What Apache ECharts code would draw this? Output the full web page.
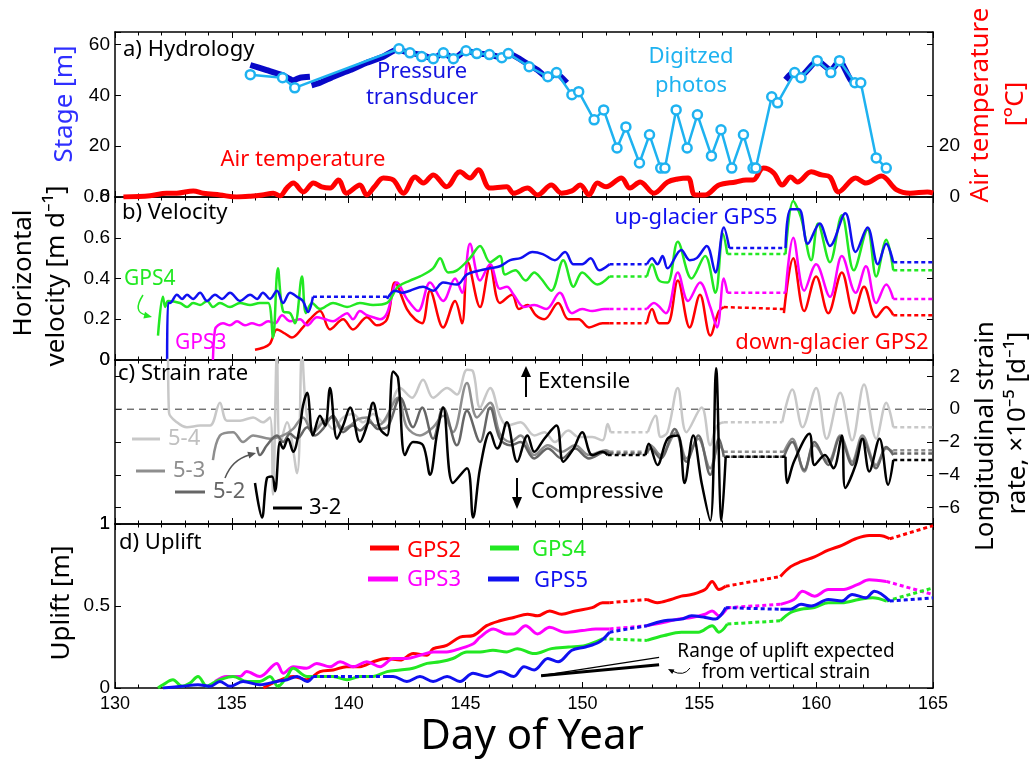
<!DOCTYPE html>
<html>
<head>
<meta charset="utf-8">
<script src="https://cdn.jsdelivr.net/npm/echarts@6/dist/echarts.min.js"></script>
<style>
  html, body { margin: 0; padding: 0; background: #fff; }
  #chart { width: 1036px; height: 763px; }
</style>
</head>
<body>
<div id="chart"></div>
<script>
// ---- a) hydrology ----
var airTemp = [[130.36,0],[131.5,0.5],[132.21,1.5],[132.64,1.5],[133.35,2.4],[133.78,1.5],[134.49,0.8],[135.2,0],[135.8,0.3],[136.3,0.8],[136.77,1.5],[137.06,0.5],[137.35,3.5],[137.63,5.5],[138.06,2],[138.49,5.5],[138.84,4],[139.2,3.5],[139.56,6.7],[139.91,1.5],[140.48,4.7],[140.77,0.8],[141.1,4],[141.48,7.5],[141.91,6.7],[142.34,1.5],[142.84,7.9],[143.19,5.5],[143.62,8.7],[144.19,4],[144.76,9.9],[145.19,7.5],[145.55,10.7],[146.05,3.5],[146.76,4],[147.06,1.5],[147.65,3.5],[148.08,0.8],[148.67,4.7],[149.11,1.5],[149.55,2.4],[149.91,4.7],[150.28,0.8],[150.64,5.5],[151.01,4],[151.67,7.5],[152.03,3.5],[152.47,5.9],[153.06,1.5],[153.64,5.9],[154.08,7.1],[154.52,7.5],[154.81,0.8],[155.25,0.8],[155.84,4.7],[156.56,5.9],[157.0,6.7],[157.3,6.7],[157.74,11.4],[158.18,9.5],[158.55,4.7],[158.91,7.9],[159.2,5.9],[159.79,9.9],[160.23,8.7],[160.59,7.9],[160.96,2],[161.69,7.5],[162.13,5.5],[162.79,8.3],[163.45,2.8],[164.03,1.5],[164.76,2],[165,1.5]];
var stagePT = [[135.79,52],[136.49,50],[137.17,48],[137.63,46],[137.92,47],[138.34,47.4],null,
  [138.41,44],[138.77,45],[139.34,47.4],[140.06,50],[140.77,52.9],[141.48,55.3],[142.05,58],[142.62,56.8],[143.12,56],[143.62,54.5],[144.05,56.8],[144.48,54.5],[145.02,57.6],[145.48,56.5],[146.02,56.1],[146.55,55],[146.83,56.5],[147.72,52],[148.08,50],[148.52,47],[148.89,48.6],[149.33,45],null,
  [158.69,46.2],[159.05,49.3],[159.35,47.8],[160.05,53.7],[160.63,50],[161.0,53.7],[161.54,45.4],[162.05,45]];
var stagePhoto = [[135.79,48.2],[137.17,47.0],[137.69,43.0],[142.15,58.4],[142.62,56.8],[143.12,55.3],[143.62,54.5],[144.05,56.8],[144.48,54.5],[145.02,57.6],[145.48,56.5],[146.02,56.1],[146.55,54.9],[146.83,56.5],[147.72,51.3],[148.52,47.4],[148.89,49.0],[149.55,40.3],[149.84,41.5],[150.5,30.4],[150.91,34.3],[151.48,19.3],[151.86,27.6],[152.44,13.4],[152.87,24.5],[153.35,11.4],[153.53,11.4],[154.01,34.3],[154.48,19.3],[154.92,32.4],[155.52,16.2],[155.93,26.5],[156.39,11.4],[156.89,24.5],[157.3,11.4],[157.42,11.4],[158.1,39.5],[158.35,37.1],[159.08,49.0],[159.35,47.0],[160.05,53.7],[160.63,49.0],[161.0,53.7],[161.66,45.0],[161.91,45.0],[162.57,15.4],[163.0,11.4]];

// ---- b) velocity [m/d] ----
var vel5 = [[132.23,0],[132.27,0.28],[132.35,0.28],[132.65,0.32],[132.87,0.30],[133.08,0.32],[133.34,0.30],[133.64,0.33],[133.94,0.29],[134.28,0.32],[134.58,0.30],[134.92,0.33],[135.35,0.29],[135.78,0.32],[136.08,0.30],[136.33,0.33],[136.63,0.30],[136.93,0.34],[137.19,0.28],[137.49,0.33],[137.79,0.31],[138.04,0.29],[138.26,0.235],[138.47,0.31],null,
  [141.64,0.30],[141.98,0.34],[142.3,0.33],[142.62,0.34],[143.18,0.36],[143.61,0.34],[144.04,0.38],[144.63,0.37],[145.06,0.42],[145.62,0.44],[146.05,0.45],[146.47,0.46],[146.91,0.49],[147.35,0.5],[147.86,0.53],[148.3,0.52],[148.82,0.49],[149.26,0.53],[149.62,0.47],[149.99,0.47],[150.35,0.5],[150.72,0.44],[151.16,0.47],null,
  [152.76,0.47],[152.98,0.5],[153.21,0.47],[153.43,0.51],[153.64,0.45],[154.23,0.54],[154.59,0.49],[154.89,0.5],[155.32,0.56],[155.69,0.43],[156.05,0.65],[156.28,0.55],null,
  [158.69,0.55],[158.91,0.74],[159.27,0.74],[159.64,0.57],[160.15,0.67],[160.59,0.56],[161.25,0.72],[161.69,0.53],[162.2,0.65],[162.64,0.47],[163.0,0.57],[163.3,0.48]];
var vel5Dot = [[138.47,0.31],[141.68,0.31],null,[151.16,0.47],[152.76,0.47],null,[156.28,0.55],[158.69,0.55],null,[163.3,0.48],[165,0.48]];
var vel4 = [[131.84,0.12],[132.05,0.31],[132.15,0.26],[132.27,0.29],[132.78,0.28],[133.08,0.26],[133.34,0.28],[133.64,0.27],[133.94,0.29],[134.19,0.26],[134.49,0.28],[134.92,0.26],[135.35,0.28],[135.78,0.27],[136.2,0.28],[136.55,0.28],[136.76,0.11],[136.97,0.45],[137.19,0.24],[137.49,0.23],[137.7,0.18],[138.0,0.41],[138.17,0.23],[138.43,0.28],[138.77,0.25],[139.33,0.28],[139.93,0.26],[140.48,0.28],[141.04,0.27],[141.64,0.28],[142.11,0.36],[142.62,0.39],[143.05,0.41],[143.61,0.45],[143.91,0.5],[144.25,0.43],[144.63,0.44],[145.19,0.5],[145.62,0.56],[146.05,0.48],[146.47,0.51],[146.69,0.42],[147.13,0.44],[147.57,0.39],[147.94,0.43],[148.23,0.40],[148.67,0.34],[149.18,0.49],[149.62,0.36],[149.99,0.43],[150.64,0.37],[151.16,0.41],null,
  [152.76,0.41],[152.98,0.47],[153.28,0.39],[153.64,0.38],[154.08,0.58],[154.67,0.40],[155.25,0.51],[155.69,0.33],[156.01,0.62],[156.2,0.52],null,
  [158.69,0.52],[159.02,0.78],[159.35,0.70],[159.79,0.49],[160.08,0.67],[160.59,0.48],[161.1,0.71],[161.61,0.44],[162.2,0.64],[162.57,0.41],[163.0,0.59],[163.3,0.44]];
var vel4Dot = [[151.16,0.41],[152.76,0.41],null,[156.2,0.52],[158.69,0.52],null,[163.3,0.44],[165,0.44]];
var vel3 = [[134.19,0],[134.28,0.15],[134.41,0.17],[134.62,0.18],[134.92,0.17],[135.22,0.19],[135.56,0.17],[135.86,0.18],[136.2,0.17],[136.55,0.19],[136.85,0.18],[137.15,0.22],[137.49,0.19],[137.92,0.2],[138.22,0.17],[138.64,0.21],[138.99,0.2],[139.33,0.19],[139.63,0.21],[139.93,0.23],[140.18,0.2],[140.48,0.24],[140.78,0.22],[141.04,0.21],[141.34,0.2],[141.64,0.23],[142.07,0.38],[142.49,0.3],[142.97,0.24],[143.48,0.38],[144.04,0.29],[144.55,0.4],[144.85,0.33],[145.19,0.57],[145.62,0.39],[146.05,0.47],[146.47,0.35],[146.77,0.36],[147.06,0.32],[147.5,0.26],[147.94,0.27],[148.45,0.25],[149.03,0.33],[149.55,0.23],[149.99,0.25],[150.42,0.24],[150.94,0.25],[151.16,0.25],null,
  [152.76,0.25],[153.06,0.28],[153.57,0.23],[154.08,0.43],[154.52,0.29],[155.03,0.38],[155.47,0.26],[155.76,0.16],[156.05,0.40],[156.2,0.33],null,
  [158.69,0.33],[159.02,0.6],[159.49,0.34],[160.0,0.47],[160.59,0.31],[161.1,0.51],[161.69,0.33],[162.13,0.46],[162.57,0.28],[163.0,0.37],[163.3,0.3]];
var vel3Dot = [[151.16,0.25],[152.76,0.25],null,[156.2,0.33],[158.69,0.33],null,[163.3,0.3],[165,0.3]];
var vel2 = [[135.99,0.05],[136.33,0.06],[136.63,0.08],[136.93,0.15],[137.27,0.13],[137.57,0.11],[138.04,0.16],[138.34,0.2],[138.77,0.24],[139.2,0.15],[139.76,0.2],[140.18,0.15],[140.78,0.21],[141.21,0.17],[141.64,0.2],[141.98,0.38],[142.49,0.25],[142.84,0.2],[143.14,0.18],[143.48,0.34],[144.04,0.16],[144.55,0.29],[144.85,0.18],[145.1,0.48],[145.62,0.26],[146.05,0.46],[146.47,0.28],[146.99,0.32],[147.28,0.25],[147.65,0.27],[148.01,0.22],[148.37,0.2],[148.96,0.28],[149.4,0.2],[149.84,0.2],[150.28,0.16],[150.86,0.18],[151.16,0.18],null,
  [152.76,0.18],[152.98,0.25],[153.28,0.18],[153.64,0.18],[154.08,0.39],[154.59,0.16],[155.03,0.32],[155.47,0.12],[155.84,0.24],[156.05,0.26],null,
  [158.62,0.23],[159.02,0.5],[159.49,0.24],[160.0,0.41],[160.52,0.23],[161.1,0.43],[161.61,0.23],[162.05,0.36],[162.57,0.21],[163.0,0.26],[163.3,0.22]];
var vel2Dot = [[151.16,0.18],[152.76,0.18],null,[156.05,0.26],[158.62,0.25],null,[163.3,0.22],[165,0.22]];

// ---- c) strain rate [x1e-5 /d] ----
var zeroLine = [[130,0],[165,0]];
var s54 = [[132.27,3.5],[132.31,-0.2],[132.65,-0.8],[133.08,-1.1],[133.64,-1.0],[134.07,-1.0],[134.49,0.4],[134.79,-0.7],[135.35,-0.7],[135.91,-0.5],[136.33,-0.8],[136.63,-0.5],[136.76,-5.2],[136.93,3.5],[137.06,-2.2],[137.36,-0.8],[137.79,-3.9],[138.0,3.5],[138.22,-0.5],[138.56,-1.3],[138.9,-0.6],[139.33,-1.2],[139.76,-0.5],[140.18,-0.3],[140.61,-0.8],[141.04,-0.3],[141.47,-0.8],[142.2,1.3],[142.71,0.7],[143.18,1.8],[143.61,0.7],[144.21,1.3],[144.63,0.9],[145.06,2.4],[145.32,2.3],[145.62,0.1],[146.05,1.3],[146.47,-0.4],[146.77,-1.0],[147.35,-0.8],[147.94,-1.6],[148.37,-1.4],[148.82,-2.0],[149.4,-1.3],[149.84,-1.7],[150.42,-1.7],[150.86,-1.9],[151.08,-0.9],[151.2,-1.4],null,
  [152.8,-1.4],[153.13,-0.4],[153.35,-1.7],[153.64,-1.4],[154.08,1.3],[154.45,-1.4],[155.1,0.1],[155.47,-2.2],[155.76,-1.0],[156.05,-0.8],null,
  [158.55,-0.8],[158.98,1.2],[159.42,-1.1],[160.0,1.3],[160.45,-1.8],[161.03,1.0],[161.54,-1.9],[162.05,1.5],[162.57,-1.8],[163.0,0.4],[163.3,-1.1]];
var s54Dot = [[151.2,-1.4],[152.8,-1.4],null,[156.05,-0.8],[158.55,-0.8],null,[163.3,-1.1],[165,-1.1]];
var s53 = [[134.19,-3.1],[134.49,-1.6],[135.05,-1.4],[135.48,-2.0],[135.91,-1.6],[136.63,-1.8],[137.19,-1.6],[137.62,-1.2],[138.04,-0.5],[138.47,-1.4],[138.9,-0.8],[139.33,-0.5],[139.76,-1.2],[140.06,-1.0],[140.4,-0.6],[140.78,-0.5],[141.13,-1.0],[141.47,-0.8],[142.11,0.7],[142.49,-1.1],[143.05,-1.6],[143.61,-1.1],[144.04,-0.4],[144.46,-1.4],[145.06,1.6],[145.49,-0.5],[146.05,0.4],[146.47,-1.5],[146.91,-2.0],[147.35,-1.6],[147.94,-2.8],[148.52,-2.2],[149.11,-2.6],[149.69,-2.2],[150.28,-2.8],[151.01,-2.5],[151.16,-2.6],null,
  [152.76,-2.6],[152.91,-2.2],[153.35,-2.8],[154.01,-1.4],[154.45,-3.0],[154.96,-1.8],[155.47,-3.6],[155.84,-2.2],[156.05,-2.6],null,
  [158.62,-2.6],[158.98,-1.8],[159.49,-3.8],[159.93,-2.2],[160.52,-3.2],[161.03,-1.6],[161.54,-3.2],[161.98,-1.6],[162.57,-3.4],[163.0,-2.4],[163.3,-2.6]];
var s53Dot = [[151.16,-2.6],[152.76,-2.6],null,[156.05,-2.6],[158.62,-2.6],null,[163.3,-2.5],[165,-2.5]];
var s52 = [[136.08,-2.3],[136.2,-2.8],[136.5,-2.2],[136.93,-1.6],[137.19,-2.0],[137.49,-1.5],[137.79,-1.8],[138.22,-1.1],[138.56,-1.6],[138.9,-1.2],[139.33,-0.4],[139.76,-1.4],[140.18,-1.0],[140.48,-1.3],[140.91,-0.8],[141.25,-1.2],[141.64,-1.1],[142.2,0.7],[142.75,-1.1],[143.14,0.1],[143.61,-1.8],[144.04,0.1],[144.63,-2.2],[145.06,-0.1],[145.62,-2.0],[146.05,0.1],[146.47,-1.8],[146.91,-2.2],[147.35,-2.0],[147.94,-3.0],[148.52,-2.4],[149.11,-3.0],[149.69,-2.4],[150.28,-3.0],[151.01,-2.6],[151.16,-2.7],null,
  [152.76,-2.7],[152.91,-2.4],[153.35,-3.0],[153.95,-1.2],[154.45,-3.2],[154.96,-1.6],[155.47,-4.0],[155.84,-1.8],[156.05,-2.9],null,
  [158.62,-2.9],[158.98,-2.0],[159.49,-3.7],[159.93,-2.0],[160.52,-3.4],[161.03,-1.7],[161.54,-3.4],[161.98,-1.8],[162.57,-3.6],[163.0,-2.3],[163.3,-2.8]];
var s52Dot = [[151.16,-2.7],[152.76,-2.7],null,[156.05,-2.9],[158.62,-2.9],null,[163.3,-2.7],[165,-2.7]];
var s32 = [[135.99,-4.5],[136.29,-6.6],[136.5,-4.2],[136.72,-4.1],[136.85,-5.0],[137.06,-2.0],[137.19,-2.4],[137.4,-1.8],[137.62,-2.6],[137.92,-1.0],[138.04,0.2],[138.22,1.0],[138.47,-1.6],[138.77,-0.4],[138.99,-1.0],[139.2,1.3],[139.5,-1.8],[139.76,-1.0],[140.06,0.1],[140.48,-2.0],[140.78,-1.0],[141.04,0.4],[141.34,-1.2],[141.64,-1.6],[141.9,2.3],[142.11,1.9],[142.41,-2.8],[142.75,-2.0],[143.18,-2.2],[143.48,-4.0],[143.78,-1.5],[144.04,0.1],[144.46,-4.5],[145.06,-3.6],[145.32,-6.6],[145.62,-3.6],[146.05,-1.4],[146.35,-2.4],[146.47,-2.2],[146.77,-0.8],[147.21,-3.2],[147.65,-1.6],[147.94,-2.6],[148.37,-1.8],[148.89,-1.0],[149.18,-3.2],[149.62,-2.4],[149.99,-1.4],[150.42,-2.8],[150.86,-2.6],[151.08,-2.8],null,
  [152.7,-2.8],[152.84,-2.1],[153.21,-3.4],[153.64,-1.8],[154.08,-1.6],[154.37,-4.5],[154.74,-1.6],[155.1,-4.5],[155.47,-6.8],[155.72,2.5],[155.95,-6.8],[156.13,-2.9],null,
  [158.69,-2.9],[158.76,-4.5],[159.05,-3.2],[159.71,-1.5],[159.93,-3.4],[160.37,-2.8],[160.74,-3.6],[161.1,-1.6],[161.25,-4.8],[161.69,-3.4],[161.98,-1.8],[162.27,-3.8],[162.71,-1.8],[163.08,-4.6],[163.3,-3.1]];
var s32Dot = [[151.08,-2.8],[152.7,-2.8],null,[156.13,-2.9],[158.69,-2.9],null,[163.3,-3.1],[165,-3.1]];

// ---- d) uplift [m] ----
var up2 = [[136.35,0],[136.92,0.04],[137.63,0.07],[138.2,0.05],[138.77,0.1],[139.34,0.11],[139.91,0.13],[140.48,0.13],[141.05,0.16],[141.63,0.18],[142.2,0.17],[142.76,0.21],[143.34,0.2],[143.62,0.24],[144.19,0.26],[144.76,0.31],[145.33,0.32],[145.9,0.38],[146.47,0.41],[147.06,0.43],[147.65,0.45],[148.08,0.44],[148.6,0.47],[149.11,0.45],[149.69,0.47],[150.42,0.49],[150.86,0.52],[151.16,0.52],null,
  [152.76,0.54],[153.21,0.52],[153.79,0.54],[154.23,0.56],[154.67,0.57],[155.25,0.6],[155.55,0.65],[155.84,0.6],[156.13,0.62],null,
  [158.47,0.68],[158.91,0.74],[159.35,0.77],[159.93,0.8],[160.52,0.84],[161.1,0.87],[161.69,0.91],[162.27,0.93],[162.71,0.93],[163.15,0.91]];
var up2Dot = [[151.16,0.52],[152.76,0.54],null,[156.13,0.62],[158.47,0.68],null,[163.15,0.91],[165,0.99]];
var up3 = [[134.28,0.04],[134.78,0.07],[135.35,0.07],[135.63,0.1],[136.2,0.07],[136.92,0.15],[137.2,0.09],[137.63,0.13],[138.2,0.12],[138.63,0.15],[139.2,0.13],[139.63,0.16],[140.2,0.13],[140.77,0.16],[141.34,0.13],[141.91,0.18],[142.48,0.18],[143.05,0.2],[143.62,0.22],[144.19,0.22],[144.76,0.24],[145.33,0.27],[145.62,0.31],[146.19,0.36],[146.76,0.33],[147.06,0.33],[147.57,0.38],[148.08,0.33],[148.6,0.37],[149.26,0.34],[149.99,0.35],[150.57,0.36],[151.16,0.36],null,
  [152.76,0.38],[153.5,0.4],[154.08,0.42],[154.67,0.43],[155.25,0.45],[155.55,0.47],[155.84,0.44],[156.2,0.49],null,
  [158.47,0.51],[159.05,0.54],[159.42,0.59],[159.93,0.56],[160.52,0.6],[161.1,0.6],[161.76,0.63],[162.27,0.66],[163.0,0.65]];
var up3Dot = [[151.16,0.36],[152.76,0.38],null,[156.2,0.49],[158.47,0.51],null,[163.0,0.65],[165,0.57]];
var up4 = [[131.84,0],[132.05,0.02],[132.48,0.05],[132.87,0.01],[133.21,0.03],[133.55,0.07],[133.94,0.01],[134.19,0.03],[134.49,0.05],[135.05,0.07],[135.65,0.04],[136.2,0.04],[136.63,0.07],[136.97,0.01],[137.36,0.07],[137.62,0.12],[138.22,0.07],[138.77,0.07],[139.33,0.07],[139.93,0.05],[140.48,0.07],[141.04,0.07],[141.64,0.1],[142.2,0.11],[142.75,0.12],[143.35,0.15],[143.91,0.16],[144.46,0.18],[145.06,0.22],[145.62,0.22],[146.17,0.23],[146.77,0.22],[147.21,0.24],[147.94,0.21],[148.67,0.24],[149.4,0.25],[150.13,0.26],[150.86,0.3],null,
  [152.76,0.29],[153.5,0.32],[154.23,0.34],[154.96,0.34],[155.55,0.38],[155.84,0.34],[156.2,0.39],null,
  [158.47,0.41],[158.91,0.46],[159.35,0.48],[159.93,0.49],[160.52,0.52],[161.1,0.52],[161.83,0.54],[162.42,0.55],[163.0,0.53]];
var up4Dot = [[150.86,0.3],[152.76,0.29],null,[156.2,0.39],[158.47,0.41],null,[163.0,0.53],[165,0.61]];
var up5 = [[132.05,0],[132.87,0.01],[133.55,0.02],[134.07,0.01],[134.49,0.04],[134.92,0.01],[135.48,0.04],[136.2,0.02],[136.93,0.04],[137.36,0.05],[137.79,0.07],[138.22,0.04],[138.47,0.07],null,
  [141.47,0.07],[141.9,0.07],[142.49,0.04],[143.05,0.07],[143.61,0.04],[144.21,0.07],[144.76,0.04],[145.32,0.09],[145.92,0.07],[146.47,0.1],[147.06,0.07],[147.5,0.13],[147.94,0.11],[148.52,0.18],[148.96,0.16],[149.55,0.23],[150.13,0.25],[150.72,0.28],[151.16,0.34],null,
  [152.76,0.38],[153.5,0.41],[154.23,0.42],[154.67,0.44],[155.25,0.43],[155.69,0.42],[156.13,0.49],null,
  [158.47,0.48],[158.91,0.48],[159.35,0.51],[159.79,0.5],[160.52,0.54],[161.1,0.53],[161.54,0.57],[162.13,0.55],[162.49,0.59],[163.15,0.53]];
var up5Dot = [[138.47,0.07],[141.47,0.07],null,[151.16,0.34],[152.76,0.38],null,[156.13,0.49],[158.47,0.48],null,[163.15,0.53],[165,0.55]];
var rangeHigh = [[148.23,0.075],[153.28,0.187]];
var rangeLow = [[148.23,0.075],[153.28,0.142]];

var RED = '#ff0000', MAG = '#ff00ff', GRN = '#22e822', BLU = '#1010f0';
var PTBLUE = '#0808c8', LBLUE = '#1eb2f0';
var G54 = '#c8c8c8', G53 = '#8e8e8e', G52 = '#666666';
var TICKFONT = 'Liberation Sans';
var TXTFONT = '"Noto Sans"';

var chart = echarts.init(document.getElementById('chart'), null, {renderer: 'canvas'});

var grids = [
  {left: 115, right: 103, top: 32, height: 165},
  {left: 115, right: 103, top: 197, height: 163},
  {left: 115, right: 103, top: 360, height: 164},
  {left: 115, right: 103, top: 524, height: 164}
];

function xAx(i, pos) {
  return {
    type: 'value', gridIndex: i, position: pos, min: 130, max: 165, interval: 5,
    axisLine: {onZero: false, lineStyle: {color: '#000', width: 1.5}},
    axisTick: {inside: true, length: 6, lineStyle: {color: '#000', width: 1}},
    minorTick: {show: true, splitNumber: 5, length: 3.5, lineStyle: {color: '#000', width: 1}},
    axisLabel: {show: i === 3 && pos === 'bottom', color: '#000', fontFamily: TICKFONT, fontSize: 18, margin: 7},
    splitLine: {show: false}, minorSplitLine: {show: false}
  };
}
function yAx(i, pos, min, max, interval, fmt) {
  var ax = {
    type: 'value', gridIndex: i, position: pos, min: min, max: max,
    axisLine: {show: true, onZero: false, lineStyle: {color: '#000', width: 1.5}},
    axisTick: {show: true, inside: true, length: 6, lineStyle: {color: '#000', width: 1}},
    axisLabel: {show: !!fmt, formatter: fmt || null, color: '#000', fontFamily: TICKFONT, fontSize: 19,
      margin: pos === 'right' ? 27 : 5, align: 'right'},
    splitLine: {show: false}
  };
  if (interval) ax.interval = interval;
  return ax;
}
function minus(v) { return v < 0 ? '\u2212' + (-v) : '' + v; }

var xAxes = [], yAxes = [];
for (var i = 0; i < 4; i++) { xAxes.push(xAx(i, 'bottom'), xAx(i, 'top')); }
yAxes.push(
  yAx(0, 'left', 0, 65, 20, function (v) { return v <= 60 ? '' + v : ''; }),
  yAx(0, 'right', 0, 65, 20, function (v) { return v <= 20 ? '' + v : ''; }),
  yAx(1, 'left', 0, 0.8, 0.2, function (v) { return '' + (+v.toFixed(1)); }),
  yAx(1, 'right', 0, 0.8, 0.2, null),
  yAx(2, 'left', -7, 3, null, function (v) { return v === 3 ? '0' : (v === -7 ? '1' : ''); }),
  yAx(2, 'right', -7, 3, null, function (v) { return (v === 3 || v === -7) ? '' : minus(v); }),
  yAx(3, 'left', 0, 1, 0.5, function (v) { return '' + v; }),
  yAx(3, 'right', 0, 1, 0.5, null)
);

function L(g, data, color, width, dash, smooth) {
  return {
    type: 'line', xAxisIndex: g * 2, yAxisIndex: g * 2,
    data: data.map(function (p) { return p || [NaN, NaN]; }),
    showSymbol: false, symbol: 'none', silent: true, animation: false, connectNulls: false,
    smooth: smooth || false,
    lineStyle: {color: color, width: width, type: dash ? (dash === true ? [4, 3] : dash) : 'solid', cap: 'butt', join: 'round'},
    emphasis: {disabled: true}
  };
}
var SM = 0.35;
var photo = L(0, stagePhoto, LBLUE, 2.5);
photo.symbol = 'circle'; photo.symbolSize = 9; photo.showSymbol = true;
photo.itemStyle = {color: '#fff', borderColor: LBLUE, borderWidth: 2.5};

var series = [
  L(0, airTemp, RED, 5, false, SM),
  L(0, stagePT, PTBLUE, 6, false, 0.2),
  photo,
  L(1, vel2, RED, 2.5, false, SM), L(1, vel2Dot, RED, 2.5, true),
  L(1, vel3, MAG, 2.5, false, SM), L(1, vel3Dot, MAG, 2.5, true),
  L(1, vel4, GRN, 2.5, false, SM), L(1, vel4Dot, GRN, 2.5, true),
  L(1, vel5, BLU, 2.5, false, SM), L(1, vel5Dot, BLU, 2.5, true),
  L(2, zeroLine, '#333', 1, [7, 5]),
  L(2, s54, G54, 2.5, false, SM), L(2, s54Dot, G54, 2.5, true),
  L(2, s53, G53, 2.5, false, SM), L(2, s53Dot, G53, 2.5, true),
  L(2, s52, G52, 2.5, false, SM), L(2, s52Dot, G52, 2.5, true),
  L(2, s32, '#000', 2.5, false, SM), L(2, s32Dot, '#000', 2.5, true),
  L(3, up2, RED, 3, false, SM), L(3, up2Dot, RED, 3, true),
  L(3, up3, MAG, 3, false, SM), L(3, up3Dot, MAG, 3, true),
  L(3, up4, GRN, 3, false, SM), L(3, up4Dot, GRN, 3, true),
  L(3, up5, BLU, 3, false, SM), L(3, up5Dot, BLU, 3, true),
  L(3, rangeHigh, '#000', 1.2), L(3, rangeLow, '#000', 3)
];

// texts, legend keys and arrows
function T(s, x, y, color, size, align, rot) {
  return {
    type: 'text', x: x, y: y, rotation: rot || 0, z: 100, silent: true,
    style: {text: s, fill: color, font: size + 'px ' + TXTFONT,
      align: align || 'left', verticalAlign: 'middle', textAlign: align || 'left', textVerticalAlign: 'middle'}
  };
}
function seg(x1, y1, x2, y2, color, w) {
  return {type: 'line', z: 100, silent: true, shape: {x1: x1, y1: y1, x2: x2, y2: y2}, style: {stroke: color, lineWidth: w}};
}
function curve(x1, y1, cx, cy, x2, y2, color, w) {
  return {type: 'bezierCurve', z: 100, silent: true,
    shape: {x1: x1, y1: y1, cpx1: cx, cpy1: cy, x2: x2, y2: y2}, style: {stroke: color, fill: null, lineWidth: w}};
}
function tri(pts, color) {
  return {type: 'polygon', z: 100, silent: true, shape: {points: pts}, style: {fill: color}};
}
var R90 = Math.PI / 2;
var graphics = [
  T('a) Hydrology', 123, 50, '#000', 22),
  T('Pressure', 422, 72, '#1515e0', 22, 'center'),
  T('transducer', 422, 98, '#1515e0', 22, 'center'),
  T('Digitzed', 691, 57, LBLUE, 22, 'center'),
  T('photos', 691, 86, LBLUE, 22, 'center'),
  T('Air temperature', 303, 160, RED, 22, 'center'),
  T('b) Velocity', 122, 213, '#000', 22),
  T('GPS4', 124, 279, GRN, 21),
  T('GPS3', 175, 343, MAG, 21),
  T('up-glacier GPS5', 696, 218, BLU, 22, 'center'),
  T('down-glacier GPS2', 832, 343, RED, 22, 'center'),
  T('c) Strain rate', 118, 374, '#000', 22),
  T('Extensile', 538, 382, '#000', 22),
  T('Compressive', 531, 492, '#000', 22),
  T('5-4', 168, 439, '#c0c0c0', 22), seg(132, 439, 160, 439, G54, 3),
  T('5-3', 173, 471, G53, 22), seg(136, 471, 165, 471, G53, 3),
  T('5-2', 213, 492, G52, 22), seg(175, 492, 205, 492, G52, 3),
  T('3-2', 309, 508, '#000', 22), seg(273, 508, 302, 508, '#000', 3),
  T('d) Uplift', 119, 543, '#000', 22),
  T('GPS2', 407, 551, RED, 22), seg(370, 548, 399, 548, RED, 5),
  T('GPS3', 407, 580, MAG, 22), seg(368, 579, 398, 579, MAG, 5),
  T('GPS4', 532, 550, GRN, 22), seg(490, 548, 519, 548, GRN, 5),
  T('GPS5', 534, 581, BLU, 22), seg(488, 579, 519, 579, BLU, 5),
  T('Range of uplift expected', 786, 652, '#000', 19, 'center'),
  T('from vertical strain', 786, 673, '#000', 19, 'center'),
  T('Day of Year', 532, 737, '#000', 42, 'center'),
  T('Stage [m]', 65, 104, '#2f2fff', 26, 'center', R90),
  T('Horizontal', 24, 273, '#000', 26, 'center', R90),
  T('velocity [m d\u207B\u00B9]', 57, 276, '#000', 26, 'center', R90),
  T('Uplift [m]', 62, 603, '#000', 26, 'center', R90),
  T('Air temperature', 981, 105, RED, 26, 'center', R90),
  T('[\u00B0C]', 1016, 104, RED, 26, 'center', R90),
  T('Longitudinal strain', 986, 436, '#000', 26, 'center', R90),
  T('rate, \u00D710\u207B\u2075 [d\u207B\u00B9]', 1018, 423, '#000', 26, 'center', R90),
  seg(526, 397, 526, 374, '#000', 2),
  tri([[521, 377], [526, 366], [531, 377]], '#000'),
  seg(517, 478, 517, 499, '#000', 2),
  tri([[512, 497], [517, 509], [522, 497]], '#000'),
  curve(143, 295, 132, 312, 146, 315, GRN, 1.5),
  tri([[152, 317], [143.4, 318.6], [145, 311.8]], GRN),
  curve(225, 478, 232, 460, 249, 455, '#555', 1.5),
  tri([[256, 453], [249.3, 458.6], [247.3, 451.8]], '#555'),
  curve(690, 668, 684, 677, 672, 671, '#000', 1),
  tri([[668, 669], [674.4, 669.5], [672.2, 673.9]], '#000')
];

chart.setOption({
  animation: false,
  backgroundColor: '#fff',
  grid: grids,
  xAxis: xAxes,
  yAxis: yAxes,
  series: series,
  graphic: {elements: graphics}
});
</script>
</body>
</html>
